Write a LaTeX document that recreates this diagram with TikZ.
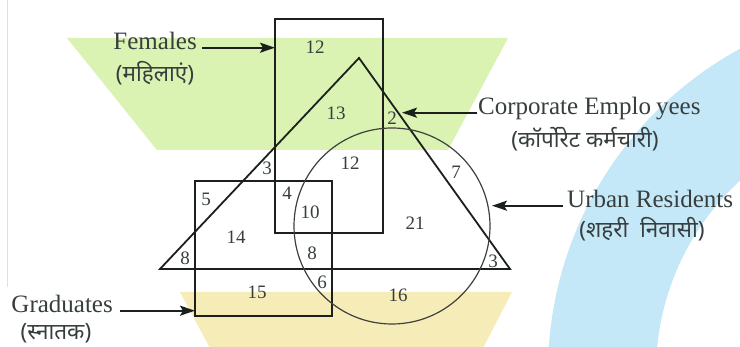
\documentclass[tikz,border=0pt]{standalone}
\usepackage{fontspec}
\setmainfont{Liberation Serif}
\newfontfamily\deva[Script=Devanagari]{Noto Sans}
\usetikzlibrary{arrows.meta}
\definecolor{txt}{RGB}{55,62,62}
\definecolor{grn}{RGB}{218,242,178}
\definecolor{ylw}{RGB}{246,236,184}
\definecolor{blu}{RGB}{197,232,248}
\definecolor{edge}{RGB}{28,32,28}
\begin{document}
\begin{tikzpicture}[x=1pt,y=-1pt,
  lbl/.style={font=\fontsize{25}{28}\selectfont, text=txt, inner sep=0pt},
  dlbl/.style={font=\deva\fontsize{22.5}{26}\selectfont, text=txt, inner sep=0pt},
  num/.style={font=\fontsize{19}{22}\selectfont, text=txt, inner sep=0pt},
  setline/.style={draw=edge, line width=1.8pt, line join=miter},
  circline/.style={draw=edge!85, line width=1.2pt},
  arr/.style={draw=edge, line width=1.8pt, -{Stealth[length=15pt,width=10pt,inset=3pt]}},
]
\useasboundingbox (0,0) rectangle (740,347);
\fill[white] (0,0) rectangle (740,347);
% background shapes
\begin{scope}
  \clip (0,0) rectangle (740,347);
  \fill[blu, even odd rule] (916,372) circle (368pt) (916,372) circle (260pt);
  \fill[grn] (67,38) -- (508,38) -- (448,150) -- (157,150) -- cycle;
  \fill[ylw] (180,292) -- (512,292) -- (482,350) -- (211,350) -- cycle;
\end{scope}
\draw[black!12, line width=1pt] (7,0) -- (7,287);
% sets
\draw[setline] (275,19) rectangle (383,233);
\draw[setline] (195,181) rectangle (332,316);
\draw[setline] (359,58) -- (510,269) -- (160,269) -- cycle;
\draw[circline] (392,226) circle (98pt);
% region numbers
\node[num] (n12a) at (315,47) {12};
\node[num] (n13) at (336,113) {13};
\node[num] (n2) at (392,118) {2};
\node[num] (n12b) at (350,163) {12};
\node[num] (n3a) at (267,168) {3};
\node[num] (n7) at (456,172) {7};
\node[num] (n5) at (206,199) {5};
\node[num] (n4) at (287,193) {4};
\node[num] (n10) at (310,212) {10};
\node[num] (n14) at (236,237) {14};
\node[num] (n21) at (415,223) {21};
\node[num] (n8a) at (185,258) {8};
\node[num] (n8b) at (312,253) {8};
\node[num] (n3b) at (493,261) {3};
\node[num] (n15) at (257,292) {15};
\node[num] (n6) at (322,282) {6};
\node[num] (n16) at (398,295) {16};
% labels
\node[lbl, anchor=base east] (fem) at (197,50) {Females};
\node[dlbl] (femd) at (155,73) {(महिलाएं)};
\coordinate (femtip) at (275,0);
\draw[arr] ([xshift=5pt]fem.mid east) -- (fem.mid east -| femtip);

\node[lbl, anchor=base west] (corp) at (478,115) {Corporate Emplo\kern5pt yees};
\node[dlbl] (corpd) at (585,139) {(कॉर्पोरेट कर्मचारी)};
\coordinate (corptip) at (402,0);
\draw[arr] ([xshift=-1pt]corp.mid west) -- (corp.mid west -| corptip);

\node[lbl, anchor=base west] (urb) at (567,208) {Urban Residents};
\node[dlbl] (urbd) at (642,229) {(शहरी\ \ निवासी)};
\coordinate (urbtip) at (492,0);
\draw[arr] ([xshift=-4pt]urb.mid west) -- (urb.mid west -| urbtip);

\node[lbl, anchor=base east] (grad) at (113,313) {Graduates};
\node[dlbl] (gradd) at (56,333) {(स्नातक)};
\coordinate (gradtip) at (195,0);
\draw[arr] ([xshift=7pt]grad.mid east) -- (grad.mid east -| gradtip);
\end{tikzpicture}
\end{document}
